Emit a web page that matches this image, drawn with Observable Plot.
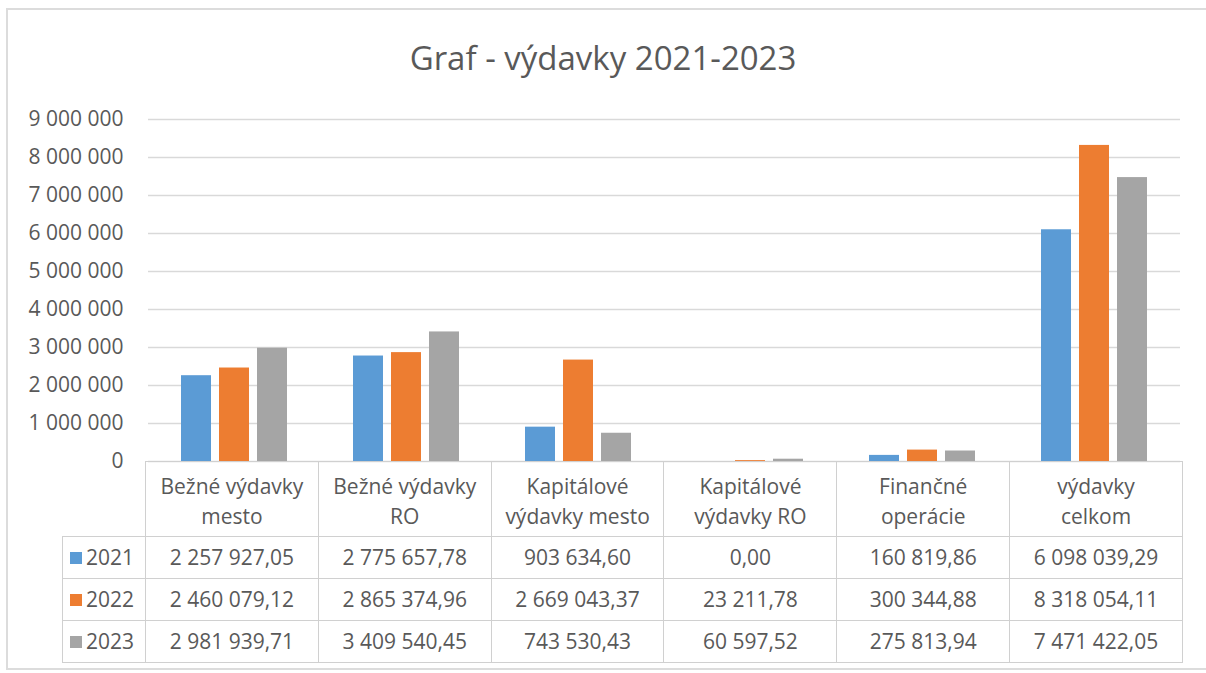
<!DOCTYPE html>
<html>
<head>
<meta charset="utf-8">
<script src="https://cdn.jsdelivr.net/npm/d3@7"></script>
<script src="https://cdn.jsdelivr.net/npm/@observablehq/plot@0.6"></script>
<style>
  html, body { margin: 0; padding: 0; background: #fff; }
  #root { position: relative; width: 1206px; height: 673px; overflow: hidden; font-family: "Open Sans", sans-serif; color: #595959; }
  #frame { position: absolute; left: 6px; top: 8px; width: 1210px; height: 662px; border: 2px solid #dcdcdc; box-sizing: border-box; }
  #title { position: absolute; left: 0; width: 1206px; top: 36px; text-align: center; font-size: 33px; line-height: 44px; color: #595959; }
  #chart { position: absolute; left: 0; top: 100px; }
  #tbl { position: absolute; left: 62px; top: 461px; border-collapse: collapse; table-layout: fixed; font-size: 21px; color: #595959; }
  #tbl td { border: 1.5px solid #d0d0d0; text-align: center; padding: 0; white-space: nowrap; }
  #tbl tr.head td { height: 75px; line-height: 30px; vertical-align: middle; padding-top: 4px; box-sizing: border-box; }
  #tbl tr.row td { height: 41px; line-height: 41px; }
  #tbl td.blank { border: none; }
  #tbl td.lab { text-align: left; padding-left: 7px; }
  .key { display: inline-block; width: 12px; height: 12px; margin-right: 4px; vertical-align: 1px; }
</style>
</head>
<body>
<div id="root">
  <div id="frame"></div>
  <div id="title"></div>
  <div id="chart"></div>
  <table id="tbl"></table>
</div>
<script>
const titleText = "Graf - výdavky 2021-2023";
const categories = ["Bežné výdavky mesto", "Bežné výdavky RO", "Kapitálové výdavky mesto", "Kapitálové výdavky RO", "Finančné operácie", "výdavky celkom"];
const categoryLines = [["Bežné výdavky", "mesto"], ["Bežné výdavky", "RO"], ["Kapitálové", "výdavky mesto"], ["Kapitálové", "výdavky RO"], ["Finančné", "operácie"], ["výdavky", "celkom"]];
const years = ["2021", "2022", "2023"];
const values2021 = [2257927.05, 2775657.78, 903634.60, 0.00, 160819.86, 6098039.29];
const values2022 = [2460079.12, 2865374.96, 2669043.37, 23211.78, 300344.88, 8318054.11];
const values2023 = [2981939.71, 3409540.45, 743530.43, 60597.52, 275813.94, 7471422.05];
const yTicks = [0, 1000000, 2000000, 3000000, 4000000, 5000000, 6000000, 7000000, 8000000, 9000000];
const colors = ["#5b9bd5", "#ed7d31", "#a5a5a5"];

const series = [values2021, values2022, values2023];
const data = [];
years.forEach((yr, j) => categories.forEach((c, i) => data.push({cat: c, year: yr, value: series[j][i]})));

const loc = d3.formatLocale({decimal: ",", thousands: "\u2009", grouping: [3]});
const tickFmt = loc.format(",d");
const cellFmt = d => loc.format(",.2f")(d).replace(/\u2009/g, " ");

document.getElementById("title").textContent = titleText;

const chart = Plot.plot({
  width: 1206,
  height: 362,
  marginTop: 19,
  marginBottom: 1,
  marginLeft: 145,
  marginRight: 24,
  style: {fontFamily: "Open Sans, sans-serif", fontSize: "21px", color: "#595959", background: "transparent", overflow: "visible"},
  fx: {domain: categories, padding: 0, axis: null, label: null},
  x: {domain: years, paddingInner: 0.22, paddingOuter: 0.854, axis: null},
  y: {domain: [0, 9000000], ticks: yTicks, tickSize: 0, tickPadding: 25, tickFormat: d => tickFmt(d).replace(/\u2009/g, " "), label: null},
  color: {domain: years, range: colors},
  marks: [
    Plot.ruleY(yTicks, {stroke: "#d9d9d9", strokeWidth: 1.5}),
    Plot.barY(data, {fx: "cat", x: "year", y: "value", fill: "year"})
  ]
});
document.getElementById("chart").appendChild(chart);

// data table built from the same arrays
const tbl = document.getElementById("tbl");
const colW = (1206 - 145 - 24) / categories.length;
const cg = document.createElement("colgroup");
const c0 = document.createElement("col"); c0.style.width = "83px"; cg.appendChild(c0);
categories.forEach(() => { const c = document.createElement("col"); c.style.width = colW + "px"; cg.appendChild(c); });
tbl.appendChild(cg);
tbl.style.width = (83 + colW * categories.length) + "px";
const head = document.createElement("tr"); head.className = "head";
const b = document.createElement("td"); b.className = "blank"; head.appendChild(b);
categoryLines.forEach(lines => {
  const td = document.createElement("td");
  lines.forEach((l, k) => { if (k) td.appendChild(document.createElement("br")); td.appendChild(document.createTextNode(l)); });
  head.appendChild(td);
});
tbl.appendChild(head);
years.forEach((yr, j) => {
  const tr = document.createElement("tr"); tr.className = "row";
  const lab = document.createElement("td"); lab.className = "lab";
  const key = document.createElement("span"); key.className = "key"; key.style.background = colors[j];
  lab.appendChild(key); lab.appendChild(document.createTextNode(yr));
  tr.appendChild(lab);
  series[j].forEach(v => { const td = document.createElement("td"); td.textContent = cellFmt(v); tr.appendChild(td); });
  tbl.appendChild(tr);
});
</script>
</body>
</html>
